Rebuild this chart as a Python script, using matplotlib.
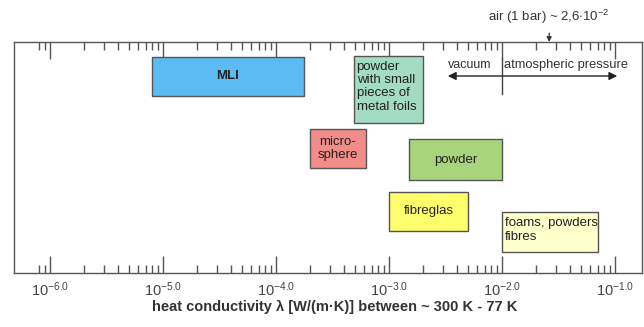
import numpy as np
import matplotlib
matplotlib.use("Agg")
from matplotlib import pyplot as plt
from matplotlib.patches import Rectangle
from matplotlib.ticker import FixedLocator, NullFormatter

plt.rcParams['font.family'] = ['Liberation Sans', 'DejaVu Sans']
plt.rcParams['mathtext.fontset'] = 'custom'
plt.rcParams['mathtext.rm'] = 'Liberation Sans'
plt.rcParams['mathtext.it'] = 'Liberation Sans'

# insulation classes: conductivity range (W/(m K))
labels = ['MLI', 'powder\nwith small\npieces of\nmetal foils', 'micro-\nsphere',
          'powder', 'fibreglas', 'foams, powders\nfibres']
lam_lo = [7.9e-6, 4.9e-4, 2.0e-4, 1.5e-3, 1.0e-3, 1.0e-2]
lam_hi = [1.75e-4, 2.0e-3, 6.2e-4, 1.0e-2, 5.0e-3, 7.0e-2]
colors = ['#5bbcf2', '#a3dcc3', '#f28c89', '#a8d47c', '#ffff6e', '#ffffcc']
# vertical rows (top, bottom) in image rows
row_top = [56.7, 55.7, 129, 139.3, 191.7, 212.3]
row_bot = [96, 122.7, 167.7, 180, 230.7, 251.7]
text_mode = ['center', 'topleft', 'center', 'center', 'center', 'topleft']

major_exp = [-6, -5, -4, -3, -2, -1]
tick_labels = [r'$10^{%.1f}$' % e for e in major_exp]
minor = [8e-7, 9e-7] + [m * 10.0**e for e in major_exp[:-1] for m in range(2, 10)]

air_lambda = 2.6e-2
vac_split = 1e-2
arrow_ends = [3.3e-3, 0.104]

fig = plt.figure(figsize=(6.44, 3.27), dpi=100)
ax = fig.add_axes([14/644, 1-273/327, (642-14)/644, (273-42)/327])
ax.set_xscale('log')
ax.set_xlim(10**-6.319, 10**-0.764)
ax.set_ylim(273, 42)
ax.set_yticks([])

grey = '#555555'
for s in ax.spines.values():
    s.set_color(grey)
    s.set_linewidth(1.0)

ax.xaxis.set_major_locator(FixedLocator([10.0**e for e in major_exp]))
ax.set_xticklabels(tick_labels)
ax.xaxis.set_minor_locator(FixedLocator(minor))
ax.xaxis.set_minor_formatter(NullFormatter())
ax.tick_params(axis='x', which='both', direction='in', top=True, bottom=True,
               color=grey, width=1.0)
ax.tick_params(axis='x', which='major', length=12, pad=5, labelsize=10.5, labelcolor='#444444')
ax.tick_params(axis='x', which='minor', length=6)

for lab, lo, hi, c, t, b, mode in zip(labels, lam_lo, lam_hi, colors, row_top, row_bot, text_mode):
    ax.add_patch(Rectangle((lo, t), hi - lo, b - t, facecolor=c, edgecolor='#555555', lw=1.0, zorder=3))
    if mode == 'center':
        xc = np.sqrt(lo * hi)
        ax.text(xc, (t + b) / 2, lab, ha='center', va='center', fontsize=9.5,
                color='#222222', linespacing=1.1, zorder=4,
                fontweight='bold' if lab == 'MLI' else 'normal')
    else:
        ax.text(lo * 1.05, t + 5, lab, ha='left', va='top', fontsize=9.5,
                color='#222222', linespacing=1.15, zorder=4)

# air reference
ax.annotate('air (1 bar) ~ 2,6' + r'$\cdot$' + '10' + r'$^{-2}$', xy=(air_lambda, 42), xytext=(air_lambda, 17),
            ha='center', va='center', fontsize=9.5, color='#333333', annotation_clip=False,
            arrowprops=dict(arrowstyle='-|>', color='#333333', lw=0.9, mutation_scale=7, shrinkA=3, shrinkB=0))

# vacuum / atmospheric pressure
ax.annotate('', xy=(arrow_ends[0], 76), xytext=(arrow_ends[1], 76),
            arrowprops=dict(arrowstyle='<|-|>', color='#222222', lw=1.0, mutation_scale=12,
                            shrinkA=0, shrinkB=0))
ax.plot([vac_split, vac_split], [58, 94], color='#444444', lw=1.0)
ax.text(vac_split / 1.25, 65, 'vacuum', ha='right', va='center', fontsize=9, color='#333333')
ax.text(vac_split * 1.04, 65, 'atmospheric pressure', ha='left', va='center', fontsize=9.3, color='#333333')

ax.set_xlabel('heat conductivity λ [W/(m·K)] between ~ 300 K - 77 K', fontsize=10.5,
              fontweight='bold', color='#333333')
ax.xaxis.set_label_coords(0.51, -0.118)

fig.savefig('out.png', dpi=100)
